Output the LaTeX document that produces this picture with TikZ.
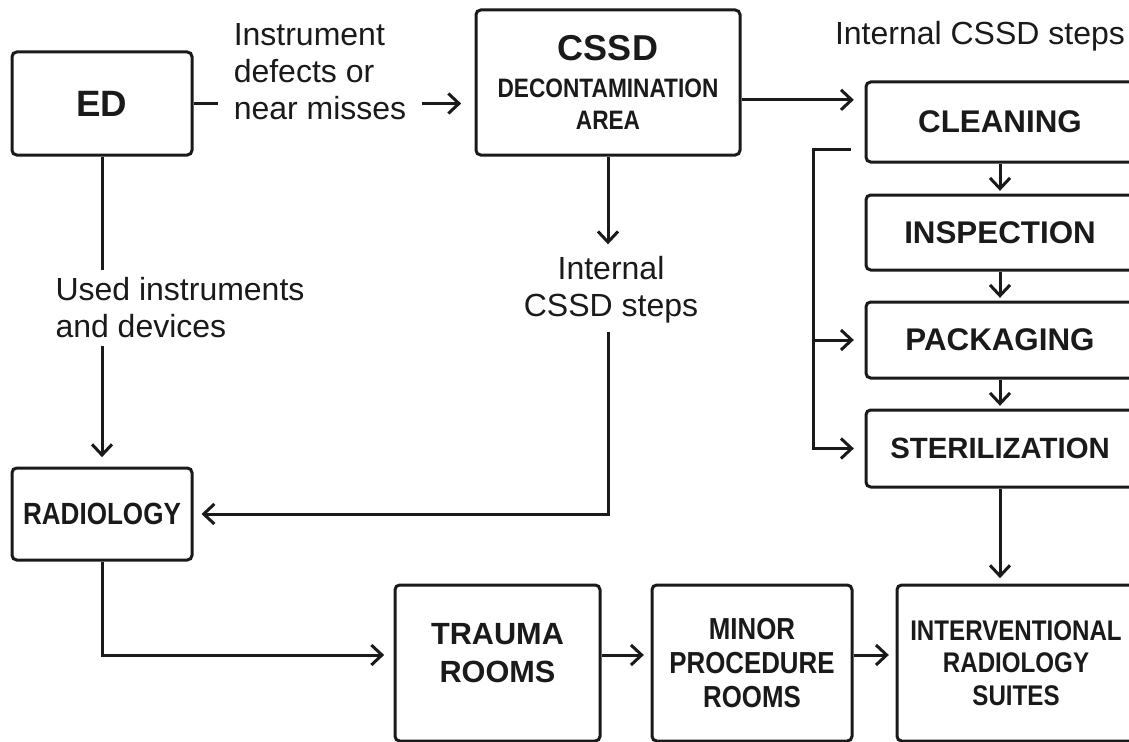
\documentclass[tikz,border=0pt]{standalone}
\usepackage{fontspec}
\setmainfont{Liberation Sans}
\newfontfamily\narrowbold[FakeStretch=0.85]{Liberation Sans Bold}
\usetikzlibrary{arrows.meta, positioning, backgrounds}
\definecolor{inkgrey}{HTML}{1a1a1a}
\tikzset{
  areabox/.style={rectangle, draw=inkgrey, line width=2.25pt, rounded corners=3.5pt,
                  inner sep=0pt, align=center, text=inkgrey,
                  font=\bfseries\fontsize{23}{29}\selectfont},
  stepbox/.style={areabox, minimum width=201pt, minimum height=57pt,
                  font=\bfseries\fontsize{23.5}{28}\selectfont},
  roombox/.style={areabox, minimum height=117pt},
  link/.style={-{Straight Barb[length=8pt,width=15pt]}, line width=2.25pt, draw=inkgrey},
  linklabel/.style={fill=white, inner sep=6pt, text=inkgrey,
                    font=\fontsize{24}{27.75}\selectfont},
}

\begin{document}
\begin{tikzpicture}[x=0.75pt, y=-0.75pt]
  \useasboundingbox (0,0) rectangle (1129,742);

  % Departments on the left
  \node[areabox, minimum width=135pt, minimum height=77.25pt,
        font=\bfseries\fontsize{27.5}{30}\selectfont] (ed) at (102,103.5) {ED};
  \node[areabox, minimum width=135pt, minimum height=69pt,
        font=\narrowbold\fontsize{23}{27}\selectfont] (radio) at (102,514) {RADIOLOGY};

  % CSSD decontamination area at the top
  \node[areabox, minimum width=198pt, minimum height=108.75pt,
        font=\bfseries\fontsize{27}{30}\selectfont] (cssd) at (608,82.5)
       {CSSD\\[-2pt]
        \narrowbold\fontsize{20}{24}\selectfont DECONTAMINATION\\[-6pt]
        \narrowbold\fontsize{20}{24}\selectfont AREA};

  % Internal CSSD steps, stacked on the right
  \node[font=\fontsize{24}{28}\selectfont, text=inkgrey] (stepstitle) at (980,36) {Internal CSSD steps};
  \node[stepbox, minimum height=60pt] (clean) at (1000,122) {CLEANING};
  \node[stepbox, minimum height=56.25pt] (insp) at (1000,232.5) {INSPECTION};
  \node[stepbox] (pack) at (1000,340) {PACKAGING};
  \node[stepbox, minimum height=57.75pt,
        font=\bfseries\fontsize{22}{26}\selectfont] (steril) at (1000,448.5) {STERILIZATION};

  % Rooms along the bottom
  \node[roombox, minimum width=153.75pt] (trauma) at (497.5,663) {TRAUMA\\ROOMS\\[-14pt]\mbox{}};
  \node[roombox, minimum width=150pt,
        font=\narrowbold\fontsize{22.8}{25.5}\selectfont] (minor) at (752,663)
       {MINOR\\PROCEDURE\\ROOMS};
  \node[roombox, minimum width=178.5pt,
        font=\narrowbold\fontsize{21.3}{24.5}\selectfont] (ir) at (1016,663)
       {INTERVENTIONAL\\RADIOLOGY\\SUITES};

  % Flow labels (white, they mask the lines behind them)
  \node[linklabel, align=left, inner xsep=12pt] (defects) at (320,72)
       {Instrument\\defects or\\near misses};
  \node[linklabel, align=left] (used) at (180,308) {Used instruments\\and devices};
  \node[linklabel, align=center] (internal) at (611,290) {Internal\\CSSD steps};

  % Lines that run behind the labels
  \begin{scope}[on background layer]
    \draw[link, shorten >=10pt] (ed.east) -- (ed.east -| cssd.west);
    \draw[link, shorten >=7pt] (ed.south) -- (radio.north);
  \end{scope}

  % CSSD out to the steps
  \coordinate (cssdout) at ([yshift=-13pt]cssd.east);
  \draw[link, shorten >=8pt] (cssdout) -- (cssdout -| clean.west);
  \foreach \a/\b in {clean/insp, insp/pack, pack/steril}{
    \draw[link, shorten >=2pt] (\a.south) -- (\b.north);
  }

  % Bypass from cleaning to packaging and sterilization
  \coordinate (brk) at ([xshift=-10.5pt, yshift=-21pt]clean.west);
  \coordinate (bus) at ([xshift=-27.75pt]brk);
  \draw[link, shorten >=8pt] (brk) -- (bus) |- (steril.west);
  \draw[link, shorten >=8pt] (bus |- pack.west) -- (pack.west);
  \draw[link, shorten >=4pt] (steril.south) -- (steril.south |- ir.north);

  % CSSD down to radiology
  \draw[link, shorten >=3pt] (cssd.south) -- (cssd.south |- internal.north);
  \draw[link, shorten >=6pt] (cssd.south |- internal.south) |- (radio.east);

  % Radiology into the rooms
  \coordinate (lane) at ([yshift=6pt]trauma.west);
  \draw[link, shorten >=7pt] (radio.south) |- (lane);
  \draw[link, shorten >=5pt] (lane -| trauma.east) -- (lane -| minor.west);
  \draw[link, shorten >=5pt] (lane -| minor.east) -- (lane -| ir.west);
\end{tikzpicture}
\end{document}
